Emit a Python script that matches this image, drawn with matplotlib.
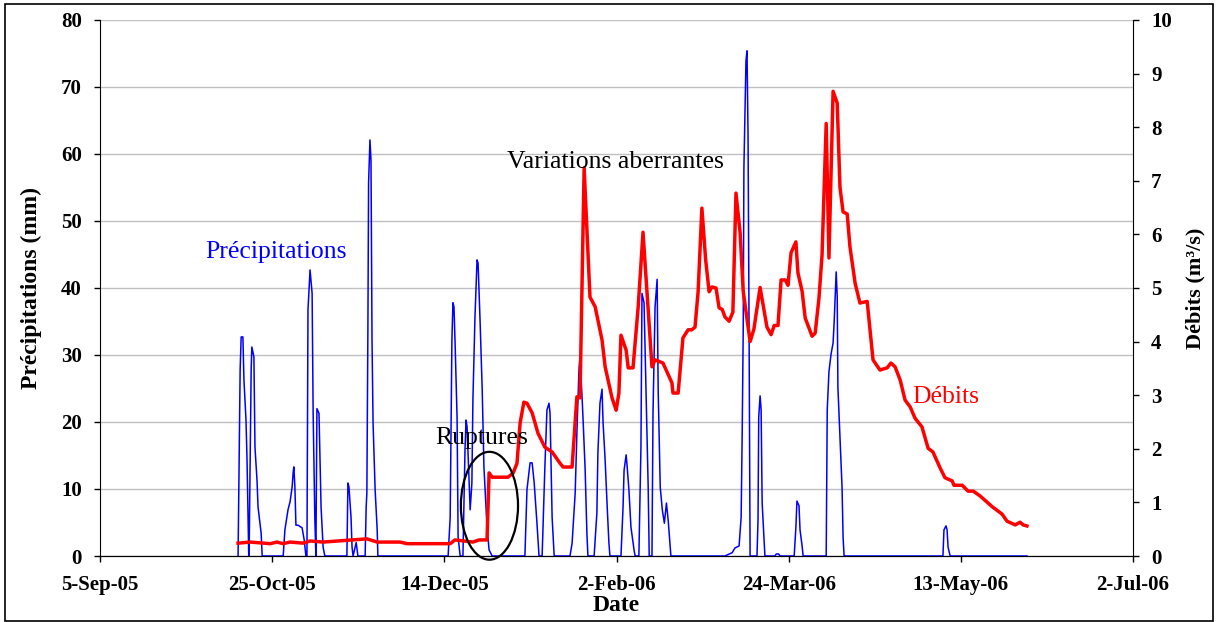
import numpy as np
import pandas as pd
import matplotlib
matplotlib.use('Agg')
import matplotlib.pyplot as plt
import matplotlib.dates as mdates
from matplotlib.patches import Ellipse, Rectangle

DEBUT = '2005-09-05'

# precipitations (mm), jours comptes depuis DEBUT
pluie_jours = [40.1, 40.7, 41.0, 41.5, 41.8, 42.4, 42.7, 43.0, 43.2,
               43.3, 43.9, 44.1, 44.7, 45.0, 45.6, 45.9, 46.8, 47.1,
               53.2, 53.7, 54.6, 55.2, 55.8, 56.1, 56.3, 56.6, 56.9, 57.5, 58.7, 59.3, 59.8,
               60.1, 60.4, 61.0, 61.6, 61.9, 62.4, 62.7,
               63.0, 63.6, 64.2, 64.8, 65.3,
               71.7, 72.0, 72.3, 72.9, 73.2, 73.5, 74.4, 74.9,
               77.0, 77.3, 77.5, 77.8, 78.0, 78.4, 78.7, 79.0, 79.3, 79.9, 80.5, 80.7,
               101.1, 101.7, 102.2, 102.5, 102.8, 103.1, 103.7, 104.0, 104.6,
               105.4, 106.0, 106.3, 106.6, 107.2, 107.5, 108.0, 108.3, 108.9, 109.5, 109.8,
               110.4, 111.0, 111.5, 112.4, 113.0, 113.9,
               123.4, 124.0, 124.9, 125.5, 126.1, 126.9, 127.5,
               128.4, 129.2, 129.8, 130.4, 130.7, 131.0, 131.3, 131.9,
               136.5, 137.1, 138.0, 138.5, 139.1, 139.4, 140.0, 140.3, 140.9, 141.4, 141.7,
               143.5, 144.3, 144.6, 145.2, 145.8, 146.1, 146.7, 147.3, 147.8, 148.1,
               151.3, 151.9, 152.2, 152.8, 153.1, 153.6, 154.2, 155.1, 155.4,
               156.5, 157.1, 157.4, 158.0, 158.6, 159.2, 159.5,
               160.3, 160.6, 161.2, 161.8, 162.1, 162.7, 163.3, 163.9, 164.5, 165.0, 165.6, 165.8,
               181.5, 183.6, 184.4, 185.6, 186.2, 186.5, 186.8, 187.0, 187.6, 187.9, 188.2, 188.5, 188.8,
               190.8, 191.1, 191.3, 191.7, 192.0, 192.3, 192.9, 193.1,
               196.0, 196.4, 197.1, 197.5,
               201.6, 202.1, 202.4, 203.0, 203.3, 203.9, 204.2,
               210.9, 211.2, 211.7, 212.3, 212.9, 213.2, 213.8, 214.1, 214.3, 214.9, 215.5, 215.8, 216.1,
               244.8, 245.1, 245.7, 246.0, 246.3, 246.9,
               269.2]
pluie_mm = [0, 27.8, 32.7, 32.7, 26.3, 20.3, 14.3, 5.4, 0,
            0, 27.8, 31.2, 29.7, 16.3, 11.3, 7.3, 3.4, 0,
            0, 3.9, 6.9, 8.1, 10.3, 12.5, 13.3, 10.3, 4.6, 4.6, 4.2, 2.4, 0,
            0, 36.7, 42.7, 39.2, 21.3, 5.4, 0,
            22.0, 21.3, 7.3, 1.3, 0,
            0, 10.9, 10.3, 5.8, 1.3, 0, 2.0, 0,
            0, 7.3, 9.4, 33.7, 55.7, 62.1, 59.1, 32.2, 19.9, 9.9, 3.9, 0,
            0, 5.8, 32.2, 37.8, 37.2, 32.2, 20.7, 2.8, 0,
            0, 15.8, 20.3, 19.3, 10.9, 6.9, 10.9, 23.3, 35.7, 44.2, 43.7,
            34.8, 24.8, 13.3, 4.3, 0.9, 0,
            0, 9.9, 13.9, 13.9, 10.9, 4.9, 0,
            0, 13.3, 21.8, 22.8, 21.3, 13.9, 5.8, 0,
            0, 1.9, 9.4, 18.4, 27.8, 29.7, 23.7, 20.3, 12.8, 3.4, 0,
            0, 6.4, 15.4, 22.8, 24.9, 19.9, 14.3, 7.3, 1.9, 0,
            0, 7.3, 12.8, 15.1, 13.3, 9.9, 4.3, 0.9, 0,
            0, 16.3, 39.2, 37.8, 23.7, 10.3, 0,
            0, 21.3, 37.2, 41.3, 24.8, 10.3, 6.9, 4.9, 7.9, 5.4, 1.3, 0,
            0, 0.5, 1.2, 1.5, 5.8, 18.2, 33.7, 57.9, 73.9, 75.4, 63.0, 33.7, 0,
            0, 5.4, 20.7, 23.9, 21.8, 7.9, 2.2, 0,
            0, 0.3, 0.3, 0,
            0, 4.3, 8.2, 7.5, 3.9, 1.5, 0,
            0, 21.8, 27.5, 30.1, 31.8, 34.8, 42.4, 38.7, 25.2, 17.8, 10.3, 2.8, 0,
            0, 3.9, 4.5, 3.9, 1.3, 0,
            0]

# debits (m3/s)
debit_jours = [40.1, 43.6, 49.4, 51.4, 53.2, 55.2, 59.0, 61.0, 64.8, 77.5, 80.5, 87.1, 89.2,
               101.7, 103.1, 108.3, 110.1, 112.4, 113.0, 113.9, 118.5, 120.0, 121.1, 122.0,
               123.1, 124.0, 125.5, 127.2, 129.2, 131.3, 133.6, 134.5, 137.1, 138.5, 139.4,
               140.6, 142.3, 143.8, 145.8, 146.7, 148.7, 149.9, 150.7, 151.3, 152.8, 153.4,
               154.8, 156.3, 157.7, 160.3, 161.2, 163.5, 166.1, 166.4, 167.9, 169.3, 170.8,
               171.9, 172.8, 173.7, 174.8, 175.9, 176.9, 177.7, 178.9, 179.8, 180.7, 181.5,
               182.7, 183.8, 184.7, 185.9, 186.8, 188.8, 189.9, 191.7, 193.7, 194.9, 195.8,
               196.9, 197.8, 199.0, 199.8, 200.7, 202.1, 202.7, 203.9, 204.8, 206.8, 207.7,
               208.8, 209.7, 210.9, 211.7, 212.9, 214.1, 214.9, 215.8, 217.0, 217.8, 219.3,
               220.7, 222.8, 224.5, 226.5, 228.6, 229.7, 230.9, 232.4, 233.8, 235.3, 236.7,
               238.7, 240.5, 241.9, 244.0, 245.4, 247.5, 248.0, 250.4, 252.1, 253.6, 255.6,
               257.0, 259.1, 262.0, 263.4, 265.8, 267.2, 268.1, 269.2]
debit_m3s = [0.24, 0.26, 0.23, 0.26, 0.23, 0.26, 0.24, 0.28, 0.26, 0.32, 0.26, 0.26, 0.23,
             0.23, 0.30, 0.26, 0.30, 0.30, 1.55, 1.47, 1.47, 1.55, 1.73, 2.48,
             2.87, 2.85, 2.67, 2.29, 2.03, 1.94, 1.73, 1.66, 1.66, 2.97, 2.95,
             7.24, 4.83, 4.65, 4.03, 3.53, 2.95, 2.72, 3.04, 4.12, 3.84, 3.51,
             3.51, 4.65, 6.04, 3.53, 3.66, 3.60, 3.23, 3.04, 3.04, 4.07, 4.22,
             4.22, 4.27, 4.93, 6.49, 5.52, 4.93, 5.02, 5.00, 4.63, 4.60, 4.46,
             4.38, 4.55, 6.77, 6.03, 4.94, 4.00, 4.23, 5.01, 4.27, 4.13, 4.30,
             4.30, 5.15, 5.15, 5.05, 5.66, 5.86, 5.28, 4.94, 4.44, 4.10, 4.16,
             4.81, 5.62, 8.07, 5.56, 8.67, 8.45, 6.88, 6.42, 6.38, 5.77, 5.09,
             4.72, 4.75, 3.66, 3.47, 3.51, 3.60, 3.53, 3.28, 2.91, 2.78, 2.57,
             2.41, 2.01, 1.94, 1.64, 1.46, 1.40, 1.32, 1.32, 1.21, 1.21, 1.12,
             1.04, 0.92, 0.78, 0.65, 0.58, 0.63, 0.58, 0.56]

tick_dates = pd.date_range(DEBUT, periods=7, freq='50D')
tick_labels = ['5-Sep-05', '25-Oct-05', '14-Dec-05', '2-Feb-06', '24-Mar-06', '13-May-06', '2-Jul-06']

t0 = pd.Timestamp(DEBUT)
pluie_dates = t0 + pd.to_timedelta(pluie_jours, unit='D')
debit_dates = t0 + pd.to_timedelta(debit_jours, unit='D')

plt.rcParams['font.family'] = ['Liberation Serif', 'DejaVu Serif']

fig = plt.figure(figsize=(12.19, 6.22), dpi=100)
ax = fig.add_axes([100 / 1219, 1 - 556 / 622, 1033 / 1219, 536 / 622])
ax2 = ax.twinx()

ax.plot(pluie_dates, pluie_mm, color='blue', lw=1.1, zorder=3)
ax2.plot(debit_dates, debit_m3s, color='red', lw=2.5, zorder=3)

ax.set_xlim(tick_dates[0], tick_dates[-1])
ax.set_ylim(0, 80)
ax2.set_ylim(0, 10)
ax.set_yticks(range(0, 81, 10))
ax2.set_yticks(range(0, 11, 1))
ax.set_xticks(tick_dates)
ax.set_xticklabels(tick_labels)
ax.yaxis.grid(True, color='#c0c0c0', lw=1.0)
ax.set_axisbelow(True)

for a in (ax, ax2):
    a.spines['top'].set_visible(False)
    a.tick_params(labelsize=15, length=4, width=1, direction='out', pad=9)
    for lab in a.get_xticklabels() + a.get_yticklabels():
        lab.set_fontweight('bold')
ax.tick_params(axis='x', pad=10)
ax2.spines['left'].set_visible(False)
ax.spines['right'].set_visible(False)

ax.set_xlabel('Date', fontsize=17, fontweight='bold', labelpad=0)
ax.set_ylabel('Précipitations (mm)', fontsize=17, fontweight='bold', labelpad=14)
ax2.set_ylabel('Débits (m³/s)', fontsize=16, fontweight='bold', labelpad=10, rotation=90)

# annotations
ax2.text(t0 + pd.Timedelta(days=30.5), 45.4 / 8, 'Précipitations', color='blue',
         fontsize=18.5, va='center', ha='left', zorder=5)
ax2.text(t0 + pd.Timedelta(days=118.2), 58.8 / 8, 'Variations aberrantes', color='black',
         fontsize=18.5, va='center', ha='left', zorder=5)
ax2.text(t0 + pd.Timedelta(days=97.3), 17.6 / 8, 'Ruptures', color='black',
         fontsize=18.5, va='center', ha='left', zorder=5)
ax2.text(t0 + pd.Timedelta(days=235.8), 23.7 / 8, 'Débits', color='red',
         fontsize=18.5, va='center', ha='left', zorder=5)
ell = Ellipse((mdates.date2num(t0 + pd.Timedelta(days=113.1)), 7.5 / 8), 16.6, 16.1 / 8,
              fill=False, edgecolor='black', lw=1.6, zorder=6, clip_on=False)
ax2.add_patch(ell)

fig.patches.append(Rectangle((5 / 1219, 1 / 622), 1208 / 1219, 617 / 622,
                             transform=fig.transFigure, fill=False,
                             edgecolor='black', lw=1.2))

fig.savefig('out.png', dpi=100)
